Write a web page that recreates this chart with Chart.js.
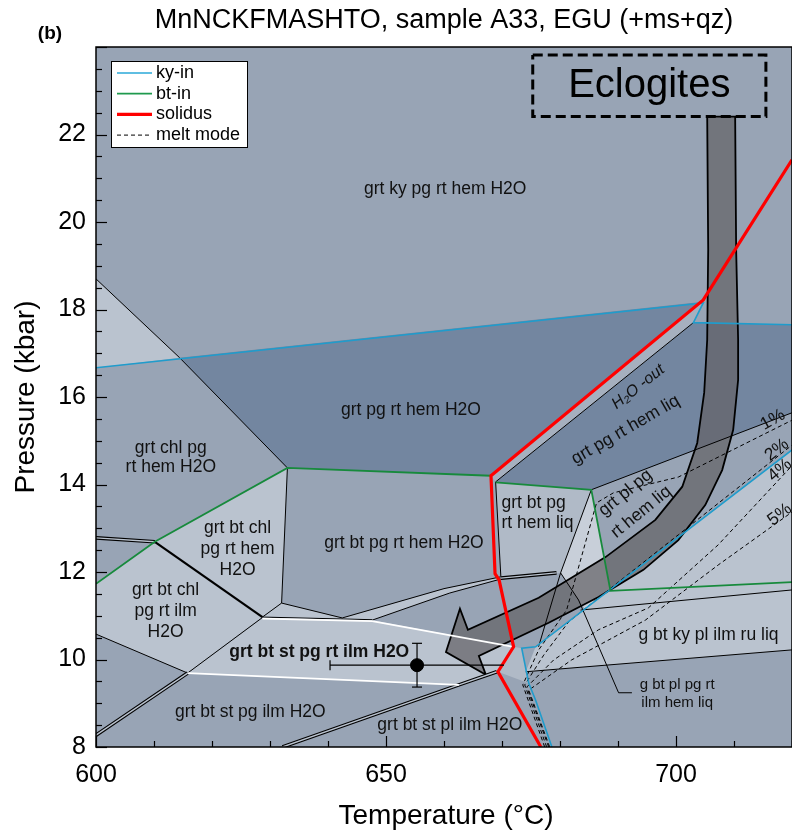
<!DOCTYPE html>
<html>
<head>
<meta charset="utf-8">
<script src="https://cdn.jsdelivr.net/npm/chart.js@4.4.1/dist/chart.umd.min.js"></script>
<style>
  html, body { margin: 0; padding: 0; background: #fff; }
  #wrap { width: 792px; height: 834px; }
</style>
</head>
<body>
<div id="wrap"><canvas id="pseudo" width="792" height="834"></canvas></div>
<script>
// axis ranges and tick labels
const T_MIN = 600, T_MAX = 720;
const P_MIN = 8, P_MAX = 24;
const tempTicks = [600, 650, 700];
const presTicks = [8, 10, 12, 14, 16, 18, 20, 22];

// colours of the fields
const COL_BASE = '#98a4b5';
const COL_DARK = '#7386a0';
const COL_LIGHT = '#bac3cf';
const COL_PALE = '#c8cfd9';
const COL_MID = '#b0bac7';
const COL_KY = '#1f9ccc';
const COL_BT = '#178a3c';
const FONT = '"Liberation Sans", Arial, sans-serif';

// ---- phase fields [T degC, P kbar] ----
const fieldTopLeft = [[600, 18.70], [614.4, 16.90], [600, 16.67]];
const fieldPgHem = [[614.4, 16.90], [633.0, 14.38], [668.1, 14.20], [704.7, 18.18]];
const fieldPgLiq = [[668.9, 14.06], [703.0, 17.70], [720, 17.65], [720, 15.64], [685.4, 13.88]];
const fieldH2OStrip = [[668.1, 14.20], [704.7, 18.22], [703.0, 17.70], [668.9, 14.06]];
const fieldChlHem = [[610.14, 12.69], [633.0, 14.38], [632.0, 11.29], [628.7, 10.97]];
const fieldChlIlm = [[600, 11.73], [610.14, 12.69], [628.7, 10.97], [615.8, 9.69], [600, 10.58]];
const fieldSliver = [[632.0, 11.29], [642.46, 10.95], [647.62, 10.90], [628.7, 10.97]];
const fieldStRtIlm = [[628.7, 10.96], [647.62, 10.90], [672.0, 10.29], [669.3, 9.72], [662.57, 9.42], [615.8, 9.69]];
const fieldBtLiq = [[668.9, 14.05], [685.4, 13.88], [680.1, 11.98], [669.8, 11.88]];
const fieldPlTri = [[685.4, 13.88], [688.7, 11.57], [684.4, 11.13], [680.1, 11.98]];
const fieldKyLiq = [[675.8, 10.29], [720, 14.79], [720, 10.22], [674.1, 9.72]];
const fieldKink = [[672.0, 10.29], [673.4, 10.26], [674.6, 9.46], [669.3, 9.72]];
const fieldWedge = [[642.46, 10.95], [660.0, 11.62], [669.8, 11.89], [669.8, 11.84], [661.0, 11.52], [647.62, 10.90]];

// ---- boundaries ----
const kyIn1 = [[600, 16.67], [704.7, 18.15], [703.0, 17.70], [720, 17.65]];
const kyIn2 = [[720, 14.79], [675.8, 10.29], [673.4, 10.26], [674.6, 9.46], [675.8, 9.07], [678.6, 8.0]];
const btIn1 = [[600, 11.73], [610.14, 12.69], [633.0, 14.38], [668.1, 14.20]];
const btIn2 = [[668.9, 14.05], [685.4, 13.88], [688.7, 11.57], [720, 11.77]];
const solidus = [[720, 21.42], [704.7, 18.22], [668.1, 14.20], [668.8, 11.96], [669.5, 11.82], [672.0, 10.29], [669.3, 9.72], [676.7, 8.0]];

const blackLines = [
  [[600, 18.70], [614.4, 16.90], [633.0, 14.38]],
  [[633.0, 14.38], [632.0, 11.29], [628.7, 10.97]],
  [[632.0, 11.29], [642.46, 10.95]],
  [[628.7, 10.97], [647.62, 10.91]],
  [[600, 10.58], [615.8, 9.69]],
  [[615.8, 9.69], [628.7, 10.96]],
  [[642.46, 10.95], [660.0, 11.62], [669.8, 11.89]],
  [[647.62, 10.90], [661.0, 11.52], [669.8, 11.84]],
  [[668.9, 14.06], [703.0, 17.70]],
  [[668.9, 14.06], [669.8, 11.90]],
  [[685.4, 13.88], [720, 15.64]],
  [[685.4, 13.88], [680.1, 11.98], [676.3, 10.29]],
  [[680.1, 11.98], [683.2, 11.36], [690.1, 9.24], [692.4, 9.24]],
  [[683.55, 11.13], [720, 11.59]],
  [[674.1, 9.72], [720, 10.22]]
];
const thickLine = [[610.14, 12.69], [628.7, 10.97]];
const doubleLines = [
  [[600, 12.78], [610.14, 12.69]],
  [[615.8, 9.69], [600, 8.27]],
  [[632.15, 8.0], [662.57, 9.42], [669.1, 9.72]],
  [[669.8, 11.86], [679.4, 11.98]]
];
const whiteLines = [
  [[628.7, 10.935], [647.62, 10.875], [672.0, 10.29]],
  [[615.8, 9.69], [662.57, 9.42]]
];

// melt mode isopleths (vol%)
const melt1 = [[677.36, 8.0], [673.58, 9.42], [676.33, 10.22], [681.14, 11.13], [686.30, 13.58], [689.22, 13.81], [700.40, 14.17], [720, 15.47]];
const melt2 = [[677.70, 8.0], [673.92, 9.42], [677.19, 10.10], [681.48, 10.86], [688.36, 11.59], [700.40, 12.85], [720, 14.90]];
const melt4 = [[678.05, 8.0], [674.27, 9.37], [678.91, 9.99], [686.64, 10.68], [695.24, 11.18], [707.27, 12.62], [720, 14.43]];
const melt5 = [[678.22, 8.0], [674.61, 9.30], [682.0, 9.99], [694.72, 10.90], [707.27, 12.16], [720, 13.37]];

// P-T path arrow outline
const ptPath = [
  [705.38, 22.41], [705.55, 19.37], [705.38, 17.31], [704.86, 16.10], [703.66, 14.95], [701.08, 13.95],
  [696.44, 13.19], [687.85, 12.34], [676.33, 11.41], [664.12, 10.68],
  [662.75, 11.16], [660.34, 10.17], [667.22, 9.65], [666.01, 10.08],
  [678.05, 10.84], [686.64, 11.43], [694.38, 12.05], [700.40, 12.73], [705.04, 13.53], [707.96, 14.33],
  [709.86, 15.25], [710.71, 16.39], [710.71, 17.31], [710.37, 19.37], [710.20, 22.41]
];
const eclogiteBox = [[675.3, 23.82], [715.5, 23.82], [715.5, 22.41], [675.3, 22.41], [675.3, 23.82]];

// sample A33 peak estimate
const sampleT = 655.35, sampleP = 9.87;
const sampleTErr = 15, samplePErr = 0.5;

// field labels: text, T, P, size, options
const fieldLabels = [
  { text: 'grt ky pg rt hem H2O', T: 660.2, P: 20.74 },
  { text: 'grt pg rt hem H2O', T: 654.3, P: 15.71 },
  { text: 'grt chl pg', T: 612.9, P: 14.84 },
  { text: 'rt hem H2O', T: 612.9, P: 14.40 },
  { text: 'grt bt chl', T: 624.4, P: 13.01 },
  { text: 'pg rt hem', T: 624.4, P: 12.53 },
  { text: 'H2O', T: 624.4, P: 12.05 },
  { text: 'grt bt chl', T: 612.0, P: 11.59 },
  { text: 'pg rt ilm', T: 612.0, P: 11.11 },
  { text: 'H2O', T: 612.0, P: 10.63 },
  { text: 'grt bt pg rt hem H2O', T: 653.1, P: 12.66 },
  { text: 'grt bt st pg rt ilm H2O', T: 638.5, P: 10.17, bold: true },
  { text: 'grt bt st pg ilm H2O', T: 626.6, P: 8.80 },
  { text: 'grt bt st pl ilm H2O', T: 661.0, P: 8.50 },
  { text: 'grt bt pg', T: 669.9, P: 13.58, align: 'left' },
  { text: 'rt hem liq', T: 669.9, P: 13.12, align: 'left' },
  { text: 'grt pg rt hem liq', T: 691.3, P: 15.25, rot: -30 },
  { text: 'H\u2082O -out', T: 693.5, P: 16.23, rot: -38, italic: true, size: 16 },
  { text: 'grt pl pg', T: 691.3, P: 13.81, rot: -39 },
  { text: 'rt hem liq', T: 694.0, P: 13.37, rot: -39 },
  { text: 'g bt ky pl ilm ru liq', T: 705.6, P: 10.56 },
  { text: 'g bt pl pg rt', T: 700.2, P: 9.42, size: 15 },
  { text: 'ilm hem liq', T: 700.2, P: 9.01, size: 15 },
  { text: '1%', T: 716.7, P: 15.48, rot: -30 },
  { text: '2%', T: 717.4, P: 14.79, rot: -38 },
  { text: '4%', T: 717.9, P: 14.33, rot: -40 },
  { text: '5%', T: 717.9, P: 13.31, rot: -38 }
];

function pts(arr) {
  return arr.map(p => ({ x: p[0], y: p[1] }));
}

const layers = [];

function addField(arr, color) {
  layers.push({
    data: pts(arr.concat([arr[0]])),
    fill: 'shape',
    backgroundColor: color,
    borderColor: 'rgba(0,0,0,0)',
    borderWidth: 0,
    pointRadius: 0
  });
}

function addLine(arr, color, width, dash) {
  layers.push({
    data: pts(arr),
    fill: false,
    borderColor: color,
    borderWidth: width,
    borderDash: dash || [],
    pointRadius: 0
  });
}

addField(fieldTopLeft, COL_LIGHT);
addField(fieldPgHem, COL_DARK);
addField(fieldPgLiq, COL_DARK);
addField(fieldH2OStrip, '#a6b0bf');
addField(fieldChlHem, COL_LIGHT);
addField(fieldChlIlm, COL_LIGHT);
addField(fieldSliver, COL_LIGHT);
addField(fieldStRtIlm, COL_LIGHT);
addField(fieldBtLiq, COL_MID);
addField(fieldPlTri, COL_PALE);
addField(fieldKyLiq, COL_LIGHT);
addField(fieldKink, COL_MID);
addField(fieldWedge, COL_LIGHT);

// P-T path
layers.push({
  data: pts(ptPath.concat([ptPath[0]])),
  fill: 'shape',
  backgroundColor: 'rgba(100,99,102,0.72)',
  borderColor: '#000',
  borderWidth: 1.8,
  pointRadius: 0
});
addLine(eclogiteBox, '#000', 3, [10, 5]);

blackLines.forEach(l => addLine(l, '#000', 1));
addLine(thickLine, '#000', 2.2);
doubleLines.forEach(l => {
  addLine(l, '#000', 3.6);
  addLine(l, COL_LIGHT, 1.4);
});
whiteLines.forEach(l => addLine(l, '#ffffff', 1.8));

[melt1, melt2, melt4, melt5].forEach(l => addLine(l, '#000', 1, [4, 3]));

addLine(kyIn1, COL_KY, 1.6);
addLine(kyIn2, COL_KY, 1.6);
addLine(btIn1, COL_BT, 1.8);
addLine(btIn2, COL_BT, 1.8);
addLine(solidus, '#ff0000', 3.2);

// error bars and the sample point
layers.push({
  data: pts([[sampleT - sampleTErr, sampleP], [sampleT + sampleTErr, sampleP]]),
  borderColor: '#000', borderWidth: 1.2, fill: false,
  pointStyle: 'line', pointRotation: 90, pointRadius: [5, 0],
  pointBorderColor: '#000', pointBorderWidth: 1.2
});
layers.push({
  data: pts([[sampleT, sampleP - samplePErr], [sampleT, sampleP + samplePErr]]),
  borderColor: '#000', borderWidth: 1.2, fill: false,
  pointStyle: 'line', pointRadius: 5,
  pointBorderColor: '#000', pointBorderWidth: 1.2
});
layers.push({
  data: pts([[sampleT, sampleP]]),
  showLine: false,
  pointRadius: 6.5,
  pointBackgroundColor: '#000',
  pointBorderColor: '#000'
});

// first layer is painted first
layers.forEach((d, i) => {
  d.order = layers.length - i;
  d.clip = 0;
  d.pointHitRadius = 0;
  d.tension = 0;
});

const legendItems = [
  { label: 'ky-in', color: '#2aa8d8', width: 1.6, dash: [] },
  { label: 'bt-in', color: '#1f9a4e', width: 1.8, dash: [] },
  { label: 'solidus', color: '#ff0000', width: 3.2, dash: [] },
  { label: 'melt mode', color: '#000', width: 1, dash: [4, 3] }
];

const frame = {
  id: 'frame',
  beforeDraw(chart) {
    const { ctx, chartArea: a } = chart;
    ctx.save();
    ctx.fillStyle = '#fff';
    ctx.fillRect(0, 0, chart.width, chart.height);
    ctx.fillStyle = COL_BASE;
    ctx.fillRect(a.left, a.top, a.right - a.left, a.bottom - a.top);
    ctx.restore();
  },
  afterDatasetsDraw(chart) {
    const { ctx, chartArea: a, scales: { x, y } } = chart;
    ctx.save();
    ctx.beginPath();
    ctx.rect(a.left, a.top, a.right - a.left, a.bottom - a.top);
    ctx.clip();
    ctx.fillStyle = '#111';
    fieldLabels.forEach(l => {
      const size = l.size || 17.5;
      ctx.font = (l.italic ? 'italic ' : '') + (l.bold ? 'bold ' : '') + size + 'px ' + FONT;
      ctx.textAlign = l.align || 'center';
      ctx.textBaseline = 'middle';
      ctx.save();
      ctx.translate(x.getPixelForValue(l.T), y.getPixelForValue(l.P));
      if (l.rot) ctx.rotate(l.rot * Math.PI / 180);
      ctx.fillText(l.text, 0, 0);
      ctx.restore();
    });
    // box text
    ctx.font = '40px ' + FONT;
    ctx.textAlign = 'center';
    ctx.fillStyle = '#000';
    ctx.fillText('Eclogites', x.getPixelForValue(695.4), y.getPixelForValue(23.1));
    ctx.restore();
  },
  afterDraw(chart) {
    const { ctx, chartArea: a, scales: { x, y } } = chart;
    ctx.save();
    ctx.strokeStyle = '#000';
    ctx.lineWidth = 1.5;
    ctx.strokeRect(a.left, a.top, a.right - a.left, a.bottom - a.top);

    // inward ticks
    ctx.lineWidth = 1.2;
    for (let t = T_MIN; t <= T_MAX; t += 10) {
      const px = Math.round(x.getPixelForValue(t)) + 0.5;
      const len = t % 50 === 0 ? 11 : 6;
      ctx.beginPath();
      ctx.moveTo(px, a.bottom);
      ctx.lineTo(px, a.bottom - len);
      ctx.stroke();
    }
    for (let p = P_MIN; p <= P_MAX; p += 0.5) {
      const py = Math.round(y.getPixelForValue(p)) + 0.5;
      const len = p % 2 === 0 ? 11 : 6;
      ctx.beginPath();
      ctx.moveTo(a.left, py);
      ctx.lineTo(a.left + len, py);
      ctx.stroke();
    }

    ctx.fillStyle = '#000';
    ctx.font = '25px ' + FONT;
    ctx.textAlign = 'center';
    ctx.textBaseline = 'middle';
    tempTicks.forEach(t => ctx.fillText(String(t), x.getPixelForValue(t), a.bottom + 28));
    ctx.textAlign = 'right';
    presTicks.forEach(p => ctx.fillText(String(p), a.left - 10, y.getPixelForValue(p)));

    // axis titles
    ctx.font = '28px ' + FONT;
    ctx.textAlign = 'center';
    ctx.fillText('Temperature (\u00B0C)', 446, 816);
    ctx.save();
    ctx.translate(26, 397);
    ctx.rotate(-Math.PI / 2);
    ctx.fillText('Pressure (kbar)', 0, 0);
    ctx.restore();

    // title and panel letter
    ctx.font = '27px ' + FONT;
    ctx.fillText('MnNCKFMASHTO, sample A33, EGU (+ms+qz)', 444, 21);
    ctx.font = 'bold 19px ' + FONT;
    ctx.fillText('(b)', 50, 34);

    // legend
    const lx = 111, ly = 61;
    ctx.fillStyle = '#fff';
    ctx.fillRect(lx, ly, 136, 86);
    ctx.lineWidth = 1;
    ctx.strokeStyle = '#000';
    ctx.strokeRect(lx + 0.5, ly + 0.5, 136, 86);
    ctx.font = '18px ' + FONT;
    ctx.textAlign = 'left';
    legendItems.forEach((item, i) => {
      const yy = ly + 12 + i * 20.7;
      ctx.strokeStyle = item.color;
      ctx.lineWidth = item.width;
      ctx.setLineDash(item.dash);
      ctx.beginPath();
      ctx.moveTo(lx + 6, yy);
      ctx.lineTo(lx + 41, yy);
      ctx.stroke();
      ctx.setLineDash([]);
      ctx.fillStyle = '#000';
      ctx.fillText(item.label, lx + 45, yy);
    });
    ctx.restore();
  }
};

new Chart(document.getElementById('pseudo'), {
  type: 'line',
  data: { datasets: layers },
  options: {
    responsive: false,
    animation: false,
    devicePixelRatio: 1,
    layout: { autoPadding: false, padding: { left: 96, top: 47, right: 0, bottom: 87 } },
    scales: {
      x: { type: 'linear', min: T_MIN, max: T_MAX, display: false },
      y: { type: 'linear', min: P_MIN, max: P_MAX, display: false }
    },
    plugins: {
      legend: { display: false },
      tooltip: { enabled: false }
    },
    events: []
  },
  plugins: [frame]
});
</script>
</body>
</html>
